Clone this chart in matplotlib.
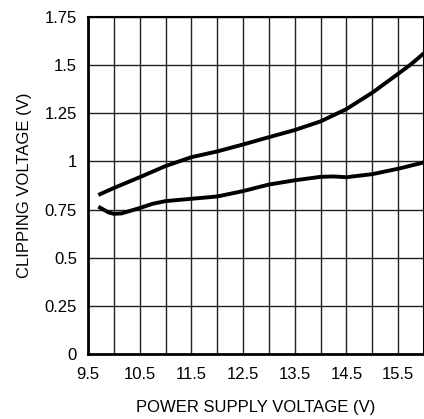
import matplotlib
matplotlib.use("Agg")
import matplotlib.pyplot as plt

plt.rcParams['font.family'] = ['Liberation Sans', 'DejaVu Sans']

# upper curve
x_hi = [9.7, 10.0, 10.5, 11.0, 11.5, 12.0, 12.5, 13.0, 13.5, 14.0, 14.5, 15.0, 15.5, 15.75, 16.0]
y_hi = [0.826, 0.862, 0.918, 0.976, 1.022, 1.052, 1.088, 1.126, 1.163, 1.208, 1.272, 1.357, 1.455, 1.505, 1.562]

# lower curve
x_lo = [9.7, 9.8, 9.9, 10.0, 10.15, 10.3, 10.5, 10.75, 11.0, 11.5, 12.0, 12.5, 13.0, 13.5, 14.0, 14.25, 14.5, 15.0, 15.5, 16.0]
y_lo = [0.765, 0.75, 0.735, 0.728, 0.73, 0.742, 0.758, 0.78, 0.794, 0.806, 0.818, 0.846, 0.880, 0.902, 0.920, 0.922, 0.918, 0.934, 0.962, 0.995]

xticks = [9.5, 10.5, 11.5, 12.5, 13.5, 14.5, 15.5]
yticks = [0, 0.25, 0.5, 0.75, 1, 1.25, 1.5, 1.75]
ytick_labels = ['0', '0.25', '0.5', '0.75', '1', '1.25', '1.5', '1.75']

fig = plt.figure(figsize=(4.24, 4.19), dpi=100)
ax = fig.add_axes([88/424, 1 - 354/419, 1 - 88/424, (354 - 17)/419])

ax.plot(x_hi, y_hi, color='black', lw=2.8, solid_capstyle='butt', zorder=3)
ax.plot(x_lo, y_lo, color='black', lw=2.8, solid_capstyle='butt', zorder=3)

ax.set_xlim(9.5, 16)
ax.set_ylim(0, 1.75)
ax.set_xticks(xticks)
ax.set_xticks([10, 11, 12, 13, 14, 15, 16], minor=True)
ax.set_yticks(yticks)
ax.set_yticklabels(ytick_labels)
ax.grid(True, which='both', color='#222222', lw=1.0)
ax.tick_params(which='both', length=0, labelsize=12)
ax.tick_params(axis='x', pad=9)
ax.tick_params(axis='y', pad=8)

for s in ['left', 'bottom']:
    ax.spines[s].set_linewidth(2)
for s in ['top', 'right']:
    ax.spines[s].set_linewidth(1.5)

ax.set_xlabel('POWER SUPPLY VOLTAGE (V)', fontsize=12, labelpad=13)
ax.set_ylabel('CLIPPING VOLTAGE (V)', fontsize=12, labelpad=9)

fig.savefig('out.png', dpi=100)
